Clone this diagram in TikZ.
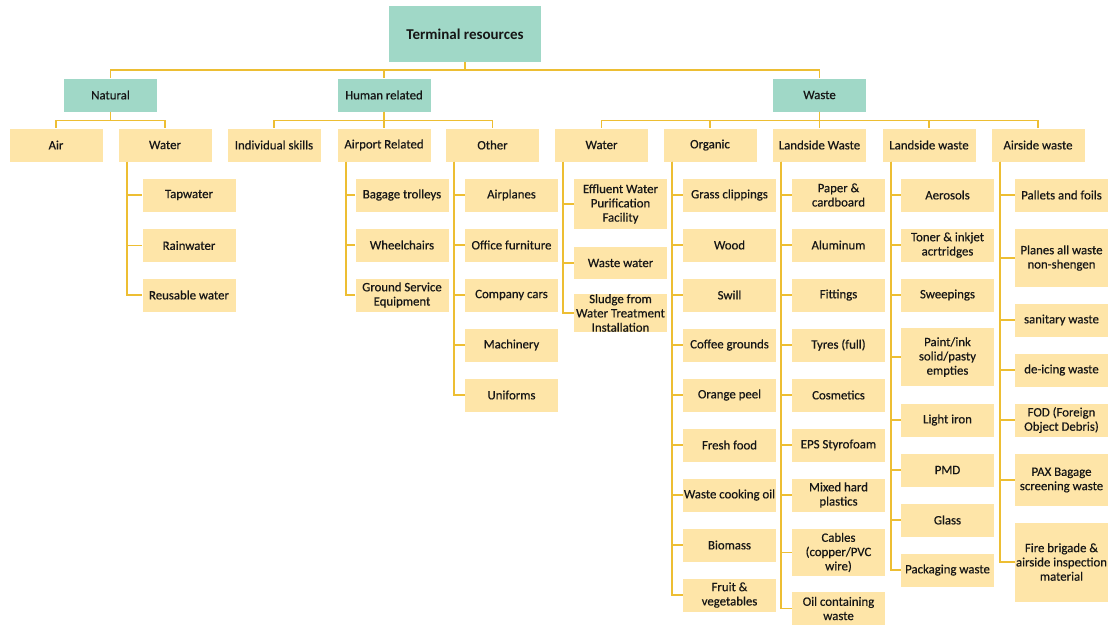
\documentclass[tikz,border=0pt]{standalone}
\usepackage{fontspec}
\setmainfont{Carlito}
\newfontfamily\boxfont{Carlito}[FakeBold=0.5]
\usetikzlibrary{calc}
\definecolor{tealbox}{HTML}{A0D8C7}
\definecolor{goldbox}{HTML}{FEE5A8}
\definecolor{goldline}{HTML}{EDBE33}
\definecolor{inktext}{HTML}{161616}

\begin{document}
\begin{tikzpicture}[x=0.75pt,y=-0.75pt,
  box/.style={fill=goldbox, draw=none, text=inktext, align=center, inner sep=0.5pt,
    minimum width=69.75pt, minimum height=24.75pt,
    font=\boxfont\fontsize{9.6}{10.7}\selectfont},
  headbox/.style={box, fill=tealbox},
  tall/.style={minimum height=#1*0.75pt},
  link/.style={draw=goldline, line width=1.25pt},
]
\useasboundingbox (0,0) rectangle (1112,626);

% ---- root and main groups ----
\node[headbox, minimum width=114pt, minimum height=42pt,
      font=\bfseries\fontsize{11.25}{13}\selectfont] (root) at (465,34) {Terminal resources};
\node[headbox] (nat) at (110.5,95) {Natural};
\node[headbox] (hum) at (384,95)   {Human related};
\node[headbox] (wst) at (819.5,95) {Waste};

% ---- second level ----
\node[box] (air)   at (56,145)    {Air};
\node[box] (nwat)  at (165,145)   {Water};
\node[box] (skill) at (274,145)   {Individual skills};
\node[box] (apt)   at (384,145)   {Airport Related};
\node[box] (oth)   at (492.5,145) {Other};
\node[box] (wwat)  at (601.5,145) {Water};
\node[box] (org)   at (710,145)   {Organic};
\node[box] (lsa)   at (819.5,145) {Landside Waste};
\node[box] (lsb)   at (929,145)   {Landside waste};
\node[box] (asw)   at (1038,145)  {Airside waste};

% ---- natural water ----
\node[box] (tap)   at (189,195)   {Tapwater};
\node[box] (rain)  at (189,245.5) {Rainwater};
\node[box] (reuse) at (189,295)   {Reusable water};

% ---- airport related ----
\node[box] (trol)  at (402,195) {Bagage trolleys};
\node[box] (wheel) at (402,245) {Wheelchairs};
\node[box] (gse)   at (402,295) {Ground Service\\Equipment};

% ---- other ----
\node[box] (plane) at (511.5,195) {Airplanes};
\node[box] (offf)  at (511.5,245) {Office furniture};
\node[box] (cars)  at (511.5,295) {Company cars};
\node[box] (mach)  at (511.5,345) {Machinery};
\node[box] (unif)  at (511.5,395) {Uniforms};

% ---- waste water ----
\node[box, tall=50] (eff)    at (620.5,204) {Effluent Water\\Purification\\Facility};
\node[box, tall=32] (wwater) at (620.5,263) {Waste water};
\node[box, tall=34] (sludge) at (620.5,313) {Sludge from\\Water Treatment\\Installation};

% ---- organic ----
\node[box] (grass)  at (729.5,195) {Grass clippings};
\node[box] (wood)   at (729.5,245) {Wood};
\node[box] (swill)  at (729.5,295) {Swill};
\node[box] (coffee) at (729.5,345) {Coffee grounds};
\node[box] (orange) at (729.5,395) {Orange peel};
\node[box] (fresh)  at (729.5,445) {Fresh food};
\node[box] (cook)   at (729.5,495) {Waste cooking oil};
\node[box] (bio)    at (729.5,545) {Biomass};
\node[box] (fruit)  at (729.5,595) {Fruit \&\\vegetables};

% ---- landside waste (first) ----
\node[box] (paper) at (838.5,195) {Paper \&\\cardboard};
\node[box] (alu)   at (838.5,245) {Aluminum};
\node[box] (fitt)  at (838.5,295) {Fittings};
\node[box] (tyre)  at (838.5,345) {Tyres (full)};
\node[box] (cosm)  at (838.5,395) {Cosmetics};
\node[box] (eps)   at (838.5,445) {EPS Styrofoam};
\node[box] (mixed) at (838.5,495) {Mixed hard\\plastics};
\node[box, tall=47] (cable) at (838.5,552.5) {Cables\\(copper/PVC\\wire)};
\node[box] (oilw)  at (838.5,608.5) {Oil containing\\waste};

% ---- landside waste (second) ----
\node[box] (aero)  at (947.5,195) {Aerosols};
\node[box] (toner) at (947.5,245) {Toner \& inkjet\\acrtridges};
\node[box] (sweep) at (947.5,295) {Sweepings};
\node[box, tall=58] (paint) at (947.5,357) {Paint/ink\\solid/pasty\\empties};
\node[box] (iron)  at (947.5,420) {Light iron};
\node[box] (pmd)   at (947.5,470) {PMD};
\node[box] (glass) at (947.5,520) {Glass};
\node[box] (pack)  at (947.5,570) {Packaging waste};

% ---- airside waste ----
\node[box] (pallet) at (1061.5,195) {Pallets and foils};
\node[box, tall=58] (planes) at (1061.5,258) {Planes all waste\\non-shengen};
\node[box] (sani)   at (1061.5,320) {sanitary waste};
\node[box] (deice)  at (1061.5,370) {de-icing waste};
\node[box] (fod)    at (1061.5,420) {FOD (Foreign\\Object Debris)};
\node[box, tall=52] (pax)  at (1061.5,480) {PAX Bagage\\screening waste};
\node[box, tall=79] (fire) at (1061.5,562) {Fire brigade \&\\airside inspection\\material};

% ---- elbow connectors between levels ----
\foreach \c in {nat,hum,wst}
  \draw[link] (root.south) -- ++(0,8) -| (\c.north);
\foreach \c in {air,nwat}
  \draw[link] (nat.south) -- ++(0,8.7) -| (\c.north);
\foreach \c in {skill,apt,oth}
  \draw[link] (hum.south) -- ++(0,8.7) -| (\c.north);
\foreach \c in {wwat,org,lsa,lsb,asw}
  \draw[link] (wst.south) -- ++(0,8.7) -| (\c.north);

% ---- trunks running down the left of each list ----
\foreach \p/\kids in {
    nwat/{tap,rain,reuse},
    apt/{trol,wheel,gse},
    oth/{plane,offf,cars,mach,unif},
    wwat/{eff,wwater,sludge},
    org/{grass,wood,swill,coffee,orange,fresh,cook,bio,fruit},
    lsa/{paper,alu,fitt,tyre,cosm,eps,mixed,cable,oilw},
    lsb/{aero,toner,sweep,paint,iron,pmd,glass,pack},
    asw/{pallet,planes,sani,deice,fod,pax,fire}} {
  \coordinate (\p T) at ($(\p.south west)+(8.5,0)$);
  \foreach \c in \kids
    \draw[link] (\p T) |- (\c.west);
}
\end{tikzpicture}
\end{document}
